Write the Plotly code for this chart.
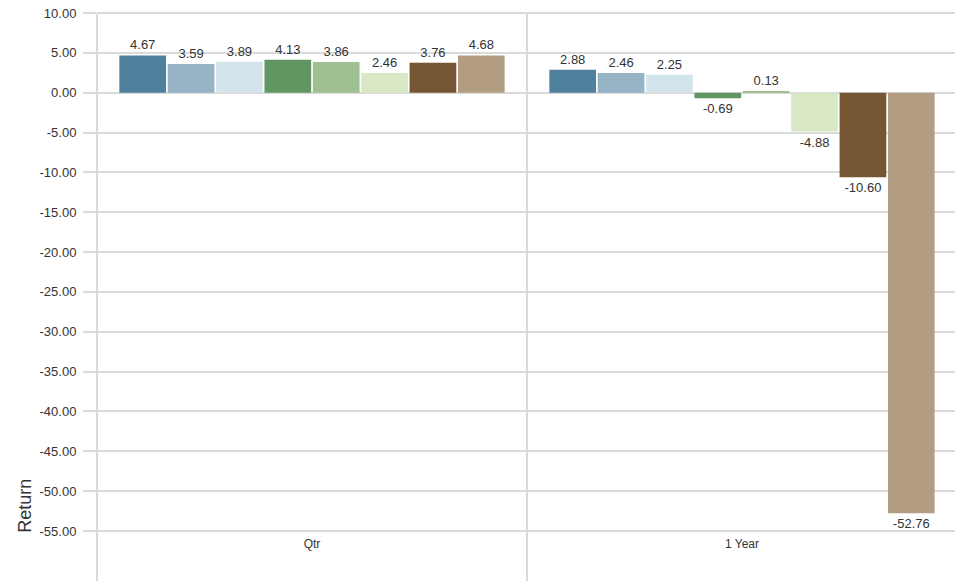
import plotly.graph_objects as go

categories = ["Qtr", "1 Year"]
series_names = ["S1", "S2", "S3", "S4", "S5", "S6", "S7", "S8"]
series_values = [
    [4.67, 2.88],
    [3.59, 2.46],
    [3.89, 2.25],
    [4.13, -0.69],
    [3.86, 0.13],
    [2.46, -4.88],
    [3.76, -10.60],
    [4.68, -52.76],
]
colors = ["#4f809e", "#95b3c5", "#d4e4ec", "#609662", "#9ec092", "#d8e8c4", "#765533", "#b39d82"]
tick_vals = list(range(10, -60, -5))
tick_text = [f"{v:.2f}" for v in tick_vals]

FONT = "Liberation Sans, Arial, sans-serif"
GRID = "#dadada"

y_min, y_max = -55.5, 10.5
y_top_tick = max(tick_vals)

fig = go.Figure()
for name, vals, c in zip(series_names, series_values, colors):
    fig.add_trace(go.Bar(
        x=categories, y=vals, name=name, marker=dict(color=c, line=dict(width=0)),
        text=[f"{v:.2f}" for v in vals], textposition="outside", cliponaxis=False,
        textfont=dict(family=FONT, size=13, color="#333333"),
    ))

n = len(categories)
y1_paper = (y_top_tick - y_min) / (y_max - y_min)
shapes = [dict(type="line", xref="paper", yref="paper", x0=i / n, x1=i / n, y0=-0.2, y1=y1_paper,
               line=dict(color=GRID, width=2), layer="below") for i in range(n + 1)]

fig.update_layout(
    width=955, height=573,
    margin=dict(l=89, r=6, t=1, b=46, autoexpand=False),
    plot_bgcolor="white", paper_bgcolor="white",
    barmode="group", bargap=0.1, bargroupgap=0.035,
    showlegend=False,
    font=dict(family=FONT, size=13, color="#333333"),
    xaxis=dict(range=[-0.5, n - 0.5], showgrid=False, zeroline=False, showline=False,
               ticks="", automargin=False, tickfont=dict(size=12, color="#333333")),
    yaxis=dict(range=[y_min, y_max], tickvals=tick_vals, ticktext=tick_text,
               showgrid=True, gridcolor=GRID, gridwidth=2, zeroline=False, showline=False,
               ticks="outside", ticklen=13, tickwidth=2, tickcolor=GRID, automargin=False,
               ticklabeloverflow="allow",
               tickfont=dict(size=13, color="#333333"), ticklabelstandoff=4),
    shapes=shapes,
    annotations=[dict(text="Return", textangle=-90, xref="paper", yref="paper",
                      x=-0.084, y=0.055, xanchor="center", yanchor="middle",
                      showarrow=False, font=dict(family=FONT, size=18, color="#333333"))],
)

fig.write_html("out.html")
